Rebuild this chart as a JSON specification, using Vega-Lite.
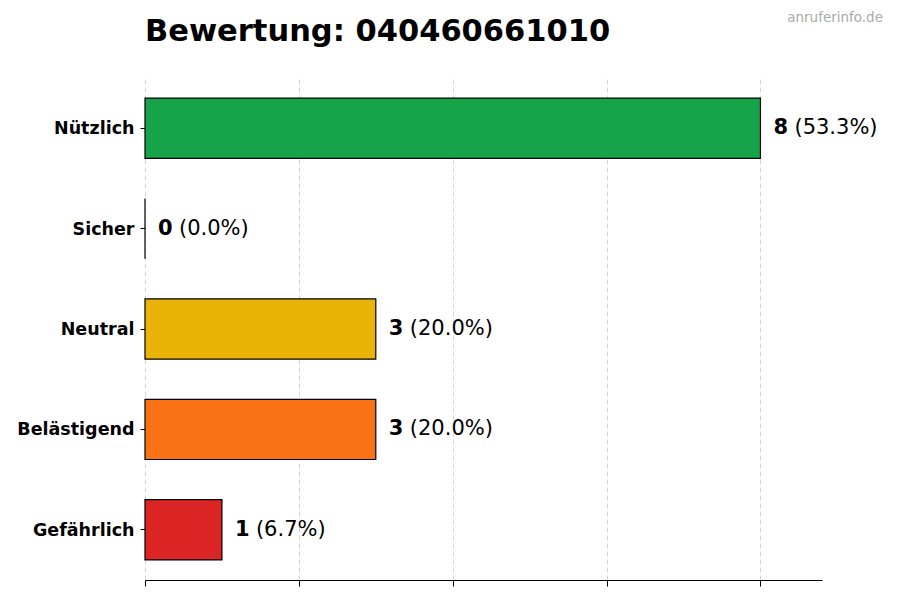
{
  "$schema": "https://vega.github.io/schema/vega-lite/v6.json",
  "width": 677,
  "height": 502,
  "autosize": {"type": "none"},
  "padding": {"left": 145, "top": 78, "right": 78, "bottom": 20},
  "title": {
    "text": "Bewertung: 040460661010",
    "anchor": "start",
    "frame": "group",
    "font": "DejaVu Sans",
    "fontSize": 30.5,
    "fontWeight": "bold",
    "color": "black",
    "offset": -36
  },
  "data": {
    "values": [
      {"kategorie": "Nützlich", "anzahl": 8, "anteil": "(53.3%)"},
      {"kategorie": "Sicher", "anzahl": 0, "anteil": "(0.0%)"},
      {"kategorie": "Neutral", "anzahl": 3, "anteil": "(20.0%)"},
      {"kategorie": "Belästigend", "anzahl": 3, "anteil": "(20.0%)"},
      {"kategorie": "Gefährlich", "anzahl": 1, "anteil": "(6.7%)"}
    ]
  },
  "encoding": {
    "y": {
      "field": "kategorie",
      "type": "nominal",
      "sort": null,
      "scale": {"paddingInner": 0.4, "paddingOuter": 0.2},
      "axis": {
        "title": null,
        "domain": false,
        "grid": false,
        "tickSize": 5,
        "tickColor": "black",
        "labelFont": "DejaVu Sans",
        "labelFontSize": 17.5,
        "labelFontWeight": "bold",
        "labelColor": "black",
        "labelPadding": 6,
        "labelOffset": 1
      }
    },
    "x": {
      "field": "anzahl",
      "type": "quantitative",
      "scale": {"domain": [0, 8.8], "nice": false},
      "axis": {
        "title": null,
        "labels": false,
        "values": [0, 2, 4, 6, 8],
        "tickSize": 6,
        "tickColor": "black",
        "domainColor": "black",
        "domainWidth": 1.2,
        "grid": true,
        "gridDash": [5, 3],
        "gridColor": "#cccccc",
        "gridWidth": 0.8
      }
    }
  },
  "layer": [
    {
      "mark": {"type": "bar", "stroke": "black", "strokeWidth": 1.2, "opacity": 1},
      "encoding": {
        "color": {
          "field": "kategorie",
          "type": "nominal",
          "legend": null,
          "scale": {
            "domain": ["Nützlich", "Sicher", "Neutral", "Belästigend", "Gefährlich"],
            "range": ["#16a34a", "#3b82f6", "#eab308", "#f97316", "#dc2626"]
          }
        }
      }
    },
    {
      "mark": {
        "type": "text",
        "align": "left",
        "baseline": "middle",
        "dx": 13,
        "font": "DejaVu Sans",
        "fontSize": 21,
        "fontWeight": "bold",
        "color": "black"
      },
      "encoding": {"text": {"field": "anzahl", "type": "quantitative"}}
    },
    {
      "mark": {
        "type": "text",
        "align": "left",
        "baseline": "middle",
        "dx": 34,
        "font": "DejaVu Sans",
        "fontSize": 21,
        "color": "black"
      },
      "encoding": {"text": {"field": "anteil", "type": "nominal"}}
    },
    {
      "data": {"values": [{"quelle": "anruferinfo.de"}]},
      "mark": {
        "type": "text",
        "align": "right",
        "baseline": "alphabetic",
        "x": {"expr": "width + 61"},
        "y": -56,
        "font": "DejaVu Sans",
        "fontSize": 13.5,
        "color": "#aaaaaa"
      },
      "encoding": {"text": {"field": "quelle", "type": "nominal"}, "x": null, "y": null}
    }
  ],
  "config": {
    "view": {"stroke": null},
    "background": "white"
  }
}
